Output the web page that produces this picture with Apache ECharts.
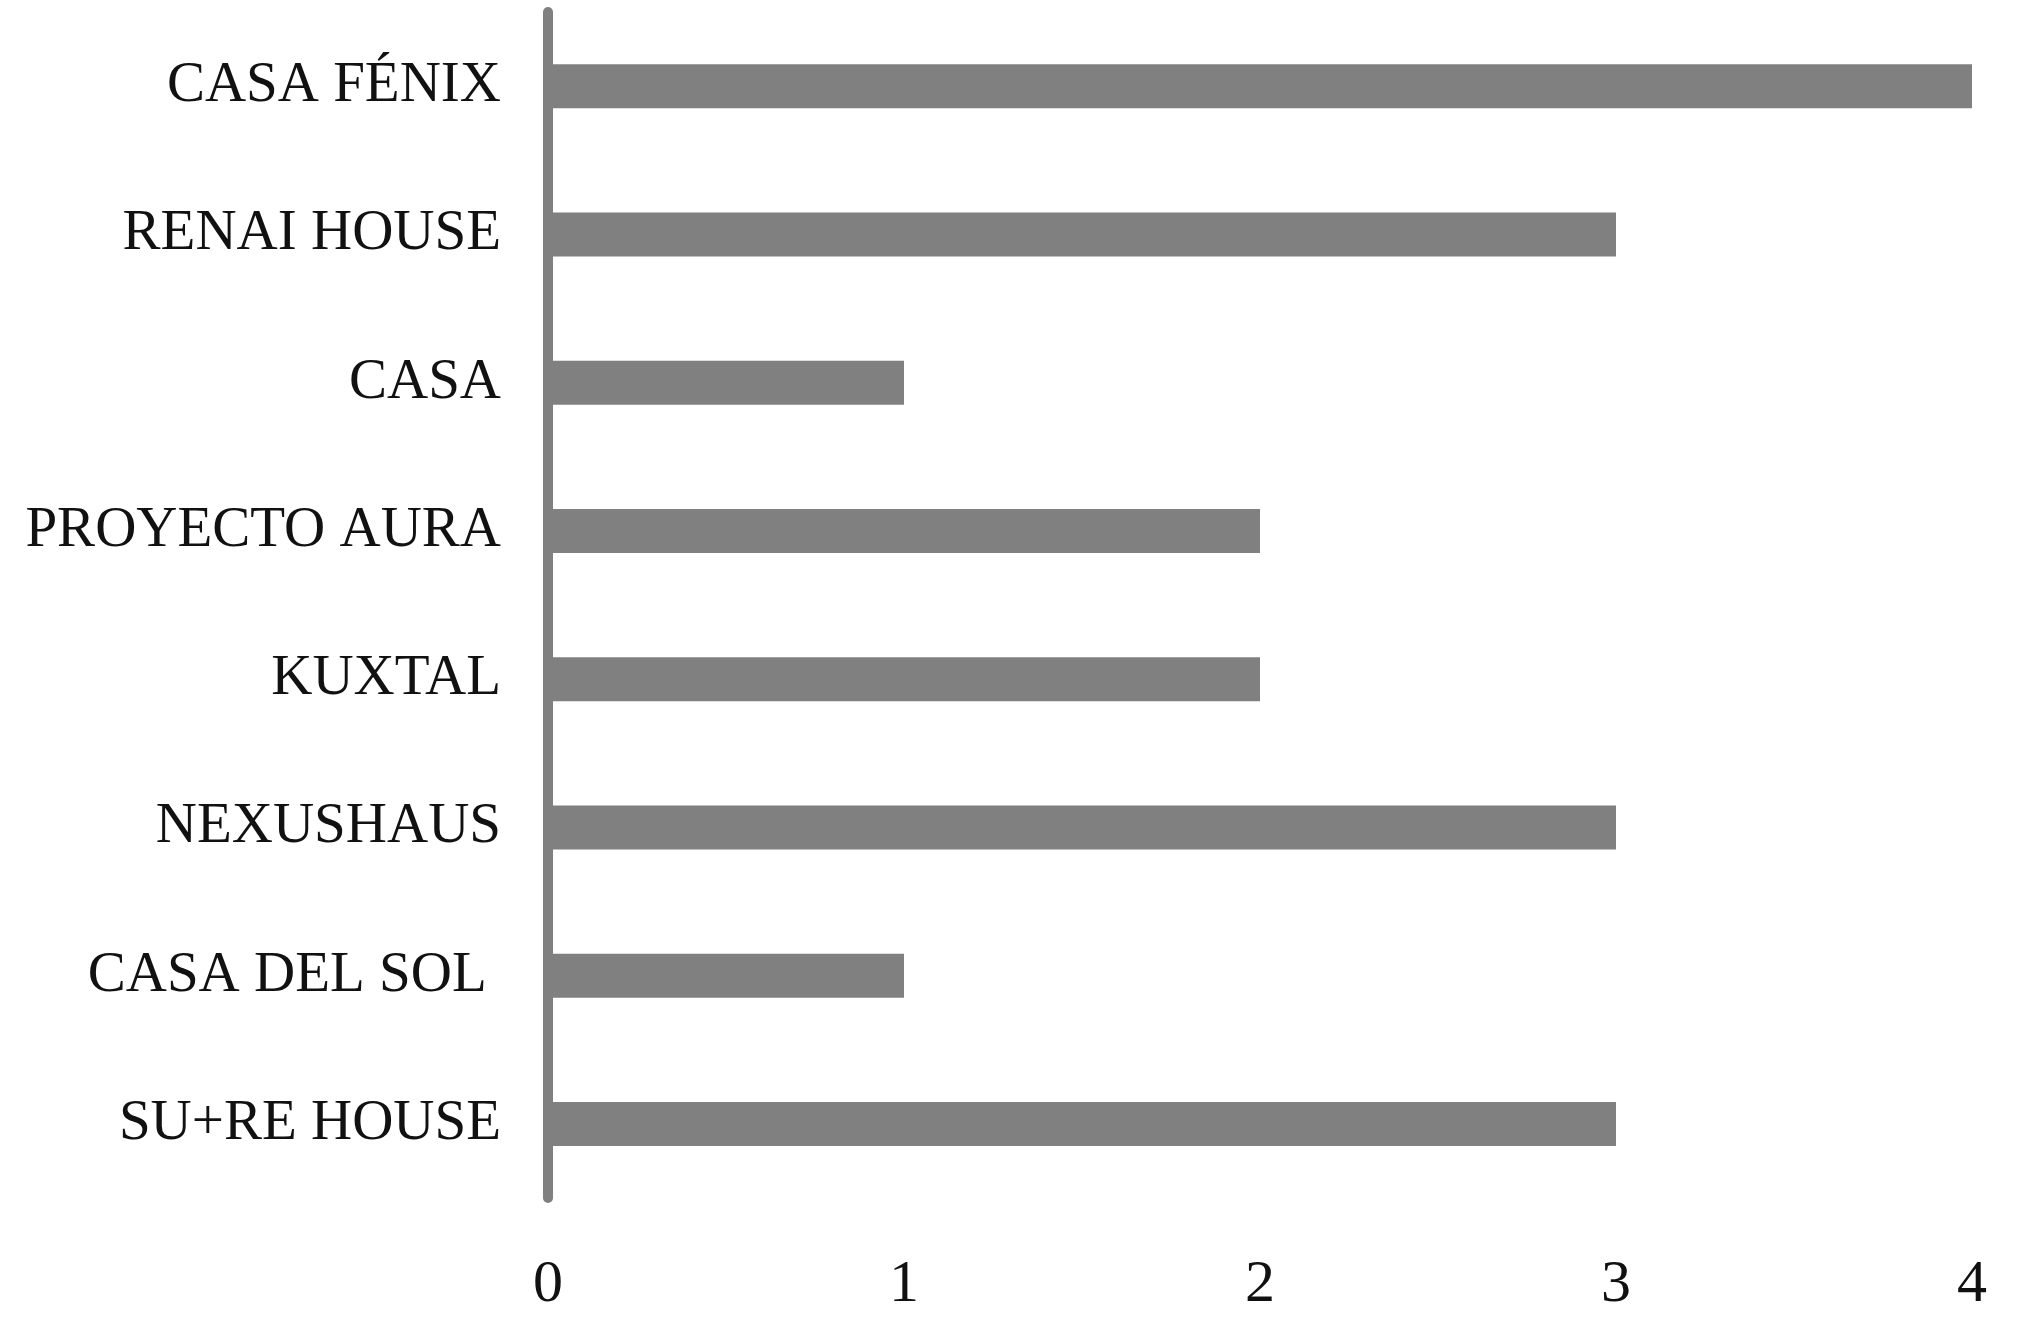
<!DOCTYPE html>
<html>
<head>
<meta charset="utf-8">
<script src="https://cdn.jsdelivr.net/npm/echarts@6/dist/echarts.min.js"></script>
<style>
html,body{margin:0;padding:0;background:#fff;}
#chart{width:2042px;height:1341px;}
</style>
</head>
<body>
<div id="chart"></div>
<script>
const categories = ["CASA FÉNIX", "RENAI HOUSE", "CASA", "PROYECTO AURA", "KUXTAL", "NEXUSHAUS", "CASA DEL SOL ", "SU+RE HOUSE"];
const values = [4, 3, 1, 2, 2, 3, 1, 3];
const xTicks = [0, 1, 2, 3, 4];

const chart = echarts.init(document.getElementById('chart'));
chart.setOption({
  backgroundColor: '#ffffff',
  animation: false,
  grid: { left: 548, right: 70, top: 12, bottom: 143, containLabel: false },
  xAxis: {
    type: 'value',
    min: xTicks[0],
    max: xTicks[xTicks.length - 1],
    interval: 1,
    axisLine: { show: false },
    axisTick: { show: false },
    splitLine: { show: false },
    axisLabel: {
      margin: 57,
      fontFamily: 'Liberation Serif',
      fontSize: 60,
      color: '#111'
    }
  },
  yAxis: {
    type: 'category',
    inverse: true,
    data: categories,
    axisLine: { show: true, lineStyle: { color: '#808080', width: 10 } },
    axisTick: { show: false },
    axisLabel: {
      margin: 47,
      fontFamily: 'Liberation Serif',
      fontSize: 57,
      color: '#111'
    }
  },
  series: [{
    type: 'bar',
    data: values,
    barWidth: 44,
    itemStyle: { color: '#808080' }
  }]
});
</script>
</body>
</html>
